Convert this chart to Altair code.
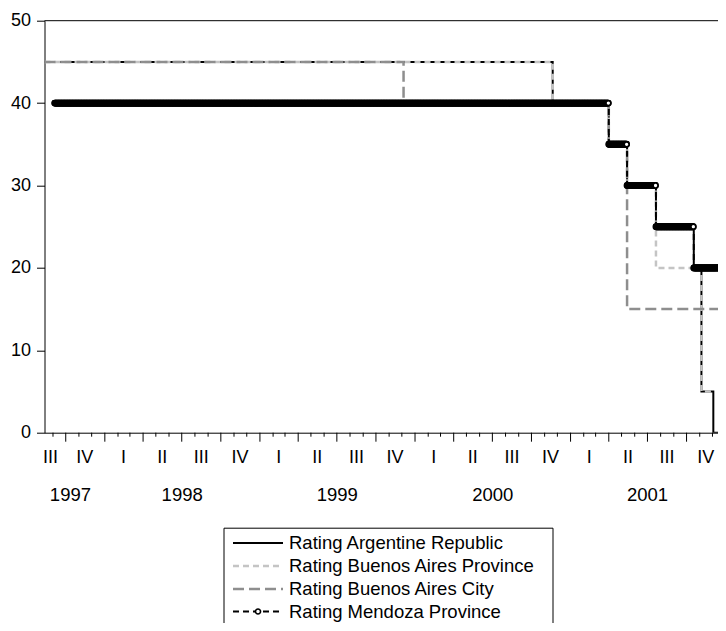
import altair as alt
import pandas as pd

# ---------------- data ----------------
series_names = ["Rating Argentine Republic", "Rating Buenos Aires Province",
                "Rating Buenos Aires City", "Rating Mendoza Province"]

arg_dates = ["1997-08-12", "2000-11-20", "2001-04-01", "2001-05-14", "2001-07-21",
             "2001-10-18", "2001-11-05", "2001-12-03", "2001-12-31"]
arg_vals = [45, 40, 35, 30, 25, 20, 5, 0, 0]

prov_dates = ["1997-08-12", "2000-11-20", "2001-04-01", "2001-05-14", "2001-07-21",
              "2001-11-05", "2001-12-03"]
prov_vals = [45, 40, 35, 30, 20, 5, 5]

city_dates = ["1997-08-12", "1999-12-05", "2001-04-01", "2001-05-14", "2001-12-31"]
city_vals = [45, 40, 35, 15, 15]

mza_dates = ["1997-09-05", "2001-04-01", "2001-05-14", "2001-07-21", "2001-10-18", "2001-12-31"]
mza_vals = [40, 35, 30, 25, 20, 20]

quarter_labels = ["III", "IV", "I", "II", "III", "IV", "I", "II", "III", "IV",
                  "I", "II", "III", "IV", "I", "II", "III", "IV"]
quarter_label_dates = ["1997-08-26", "1997-11-15", "1998-02-14", "1998-05-16", "1998-08-16",
                       "1998-11-15", "1999-02-14", "1999-05-16", "1999-08-16", "1999-11-15",
                       "2000-02-14", "2000-05-16", "2000-08-16", "2000-11-15", "2001-02-14",
                       "2001-05-16", "2001-08-16", "2001-11-15"]
year_labels = ["1997", "1998", "1999", "2000", "2001"]
year_label_dates = ["1997-10-12", "1998-07-02", "1999-07-02", "2000-07-02", "2001-07-01"]

y_ticks = [0, 10, 20, 30, 40, 50]

# ---------------- build tables ----------------
def steps(dates, vals):
    return pd.DataFrame({"date": dates, "v": vals})

mza_rows = []
for i in range(len(mza_dates) - 1):
    for d in pd.date_range(mza_dates[i], mza_dates[i + 1], inclusive="left"):
        mza_rows.append({"date": d.strftime("%Y-%m-%d"), "v": mza_vals[i]})
mza_daily = pd.DataFrame(mza_rows)

months = pd.date_range("1997-09-01", "2001-12-01", freq="MS")
minor_ticks = pd.DataFrame({"date": [m.strftime("%Y-%m-%d") for m in months if m.month not in (1, 4, 7, 10)]})
major_ticks = pd.DataFrame({"date": [m.strftime("%Y-%m-%d") for m in months if m.month in (1, 4, 7, 10)]})
qlab = pd.DataFrame({"date": quarter_label_dates, "label": quarter_labels})
ylab = pd.DataFrame({"date": year_label_dates, "label": year_labels})

# ---------------- geometry / style ----------------
W, H = 673.5, 412
FONT = "Liberation Sans"

xscale = alt.Scale(type="utc", domain=[alt.DateTime(year=1997, month=8, date=12, utc=True),
                                       alt.DateTime(year=2001, month=12, date=14, utc=True)])
xaxis = alt.Axis(labels=False, ticks=False, domain=True, domainColor="black", domainWidth=1,
                 grid=False, title=None)
yaxis = alt.Axis(values=y_ticks, tickSize=8, tickColor="black", tickWidth=1,
                 domainColor="black", domainWidth=1, grid=False, title=None,
                 labelFont=FONT, labelFontSize=18, labelColor="black", labelPadding=6)
yscale = alt.Scale(domain=[0, 50], nice=False)


def X():
    return alt.X("date:T", scale=xscale, axis=xaxis)


def Y():
    return alt.Y("v:Q", scale=yscale, axis=yaxis)


def step_line(df, **style):
    return alt.Chart(df).mark_line(interpolate="step-after", clip=True, **style).encode(x=X(), y=Y())


arg = step_line(steps(arg_dates, arg_vals), color="black", strokeWidth=2)
prov = step_line(steps(prov_dates, prov_vals), color="#c4c4c4", strokeWidth=2.5, strokeDash=[6, 4])
city = step_line(steps(city_dates, city_vals), color="#8e8e8e", strokeWidth=2.5, strokeDash=[11, 5])
mza_line = step_line(steps(mza_dates, mza_vals), color="black", strokeWidth=2, strokeDash=[6, 4])
mza_pts = alt.Chart(mza_daily).mark_point(shape="circle", filled=True, fill="white", stroke="black",
                                          strokeWidth=1.8, size=26, opacity=1, clip=True).encode(x=X(), y=Y())

top_border = alt.Chart(alt.Data(values=[{}])).mark_rule(color="black", strokeWidth=1).encode(
    x=alt.value(0), x2=alt.value(W), y=alt.value(0))

minor = alt.Chart(minor_ticks).mark_rule(color="black", strokeWidth=1).encode(
    x=X(), y=alt.value(H), y2=alt.value(H + 4))
major = alt.Chart(major_ticks).mark_rule(color="black", strokeWidth=1).encode(
    x=X(), y=alt.value(H), y2=alt.value(H + 9))

qtext = alt.Chart(qlab).mark_text(font=FONT, fontSize=18, baseline="middle", align="center",
                                   color="black").encode(x=X(), y=alt.value(H + 25), text="label:N")
ytext = alt.Chart(ylab).mark_text(font=FONT, fontSize=18.5, baseline="middle", align="center",
                                   color="black").encode(x=X(), y=alt.value(H + 62), text="label:N")

# ---------------- legend ----------------
LX0, LX1, LY0 = 179.5, 508.5, 507.5
row_y = [522.3, 545.3, 568.3, 590.8]
sym_x0, sym_x1, txt_x = 188.5, 238.5, 244.5
sym_styles = [
    dict(color="black", strokeWidth=2),
    dict(color="#c4c4c4", strokeWidth=2.5, strokeDash=[6, 4]),
    dict(color="#8e8e8e", strokeWidth=2.5, strokeDash=[11, 5]),
    dict(color="black", strokeWidth=2, strokeDash=[6, 4]),
]

legend_layers = [
    alt.Chart(alt.Data(values=[{}])).mark_rect(fillOpacity=0, stroke="black", strokeWidth=1).encode(
        x=alt.value(LX0), x2=alt.value(LX1), y=alt.value(LY0), y2=alt.value(H + 260))
]
for i, name in enumerate(series_names):
    d = alt.Data(values=[{"label": name}])
    legend_layers.append(alt.Chart(d).mark_rule(**sym_styles[i]).encode(
        x=alt.value(sym_x0), x2=alt.value(sym_x1), y=alt.value(row_y[i])))
    legend_layers.append(alt.Chart(d).mark_text(font=FONT, fontSize=18.5, align="left", baseline="middle",
                                                color="black").encode(
        x=alt.value(txt_x), y=alt.value(row_y[i]), text="label:N"))
legend_layers.append(alt.Chart(alt.Data(values=[{}])).mark_point(
    shape="circle", filled=True, fill="white", stroke="black", strokeWidth=1.6, size=26, opacity=1).encode(
    x=alt.value((sym_x0 + sym_x1) / 2), y=alt.value(row_y[3])))

chart = alt.layer(arg, prov, city, mza_line, mza_pts, top_border, minor, major, qtext, ytext,
                  *legend_layers).properties(
    width=W, height=H,
    autosize=alt.AutoSizeParams(type="none"),
    padding={"left": 36.5, "top": 12.7, "right": 0, "bottom": 190.3},
    background="white",
).configure_view(stroke=None)

chart.save("out.html", embed_options={"renderer": "svg", "actions": False})
